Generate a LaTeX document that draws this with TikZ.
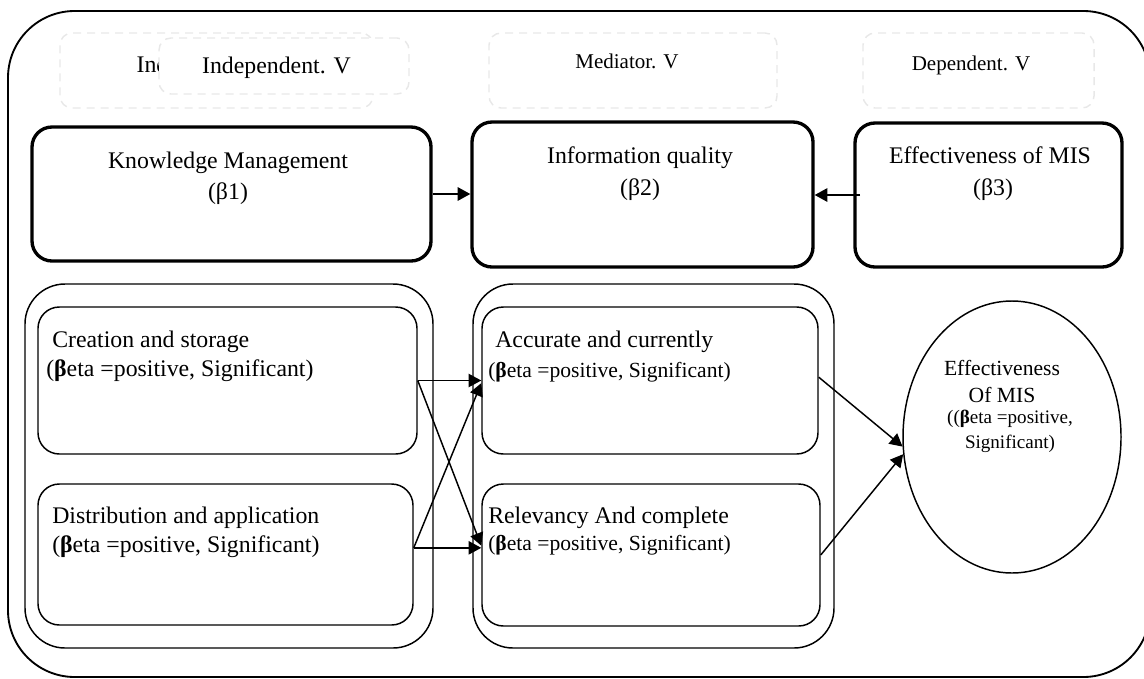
\documentclass[tikz,border=0pt]{standalone}
\usepackage{fontspec}
\setmainfont{Liberation Serif}
\usetikzlibrary{shapes.geometric,arrows.meta,fit}

\tikzset{
  frame/.style={draw, line width=1.4pt, rounded corners=50pt, inner sep=0pt},
  headbox/.style={draw=black!9, line width=1.1pt, dash pattern=on 6pt off 4.5pt,
    rounded corners=9pt, inner sep=0pt},
  thickbox/.style={draw, line width=2.5pt, rounded corners=15pt, inner sep=0pt},
  groupbox/.style={draw, line width=1.1pt, rounded corners=30pt, inner sep=0pt},
  thinbox/.style={draw, line width=1.1pt, rounded corners=16pt, inner sep=0pt},
  oval/.style={draw, ellipse, line width=1.1pt, inner sep=0pt,
    minimum width=163.5pt, minimum height=204pt},
  big/.style={inner sep=0pt, font=\fontsize{17.85}{20}\selectfont},
  mid/.style={inner sep=0pt, font=\fontsize{16.2}{19}\selectfont},
  small/.style={inner sep=0pt, font=\fontsize{15.75}{18}\selectfont},
  tiny/.style={inner sep=0pt, font=\fontsize{14.3}{17}\selectfont},
  arr/.style={-{Triangle[length=9.5pt,width=10pt]}, line width=1.1pt},
  arrthick/.style={arr, line width=1.5pt},
}
\newcommand{\betapos}{(\textbf{β}eta =positive, Significant)}

\begin{document}
\begin{tikzpicture}[x=0.75pt,y=-0.75pt]
\useasboundingbox (0,0) rectangle (1144,678);
\clip (0,0) rectangle (1144,678);

% outer frame (its right side runs just past the page edge)
\node[frame, fit={(8,11) (1150,677)}] (outer) {};

% column headings
\node[headbox, fit={(60,33) (373,108)}] (hA) {};
\node[big, anchor=base] (hAt) at (211,72) {Independent. V};
\node[headbox, fill=white, fit={(159,38) (409,94)}] (hB) {};
\node[big, anchor=base] (hBt) at (276.5,73) {Independent. V};
\node[headbox, fit={(489,33) (777,108)}] (hC) {};
\node[small, anchor=base] (hCt) at (627,68) {Mediator. V};
\node[headbox, fit={(863,33) (1094,108)}] (hD) {};
\node[small, anchor=base] (hDt) at (971,70) {Dependent. V};

% main constructs
\node[thickbox, fit={(32,127) (431,261)}] (km) {};
\node[big, anchor=base] (kmt1) at (228,168) {Knowledge Management};
\node[big, anchor=base] (kmt2) at (228,199) {(β1)};

\node[thickbox, fit={(472,122) (813,267)}] (iq) {};
\node[big, anchor=base] (iqt1) at (640,163) {Information quality};
\node[big, anchor=base] (iqt2) at (640,195) {(β2)};

\node[thickbox, fit={(855,123) (1122,267)}] (ems) {};
\node[big, anchor=base] (emst1) at (990,163) {Effectiveness of MIS};
\node[big, anchor=base] (emst2) at (993,195) {(β3)};

\draw[arrthick] (km.east) -- (km.east -| iq.west);
\draw[arrthick] ([xshift=5pt]ems.west) -- (ems.west -| iq.east);

% dimensions
\node[groupbox, fit={(25,284) (433,648)}] (g1) {};
\node[thinbox, fit={(38,307) (417,454)}] (b1) {};
\node[thinbox, fit={(38,484) (413,625)}] (b2) {};
\node[groupbox, fit={(473,284) (834,648)}] (g2) {};
\node[thinbox, fit={(482,307) (818,454)}] (b3) {};
\node[thinbox, fit={(482,484) (820,626)}] (b4) {};
\node[oval] (ell) at (1012,437) {};

\node[big, anchor=base west] (b1t1) at (52,347) {Creation and storage};
\node[big, anchor=base west] (b1t2) at (46,376) {\betapos};
\node[big, anchor=base west] (b2t1) at (52,523) {Distribution and application};
\node[big, anchor=base west] (b2t2) at (52,552) {\betapos};
\node[big, anchor=base west] (b3t1) at (495,347) {Accurate and currently};
\node[mid, anchor=base west] (b3t2) at (488,377) {\betapos};
\node[big, anchor=base west] (b4t1) at (488,523) {Relevancy And complete};
\node[mid, anchor=base west] (b4t2) at (488,550) {\betapos};

\node[mid, anchor=base] (ellt1) at (1002,375) {Effectiveness};
\node[mid, anchor=base] (ellt2) at (1002,402) {Of MIS};
\node[tiny, anchor=base] (ellt3) at (1010,423) {((\textbf{β}eta =positive,};
\node[tiny, anchor=base] (ellt4) at (1010,448) {Significant)};

% paths
\coordinate (b2o) at ([yshift=5pt]b2.east);
\draw[arr] (b1.east) -- (b1.east -| b3.west);
\draw[arr] (b1.east) -- ([yshift=7pt]b4.west);
\draw[arr] (b2o) -- (b2o -| b4.west);
\draw[arr] (b2o) -- ([yshift=-2pt]b3.west);
\draw[arr] ([yshift=2.5pt]b3.east) -- (ell.185);
\draw[arr] (b4.east) -- (ell.189);
\end{tikzpicture}
\end{document}
